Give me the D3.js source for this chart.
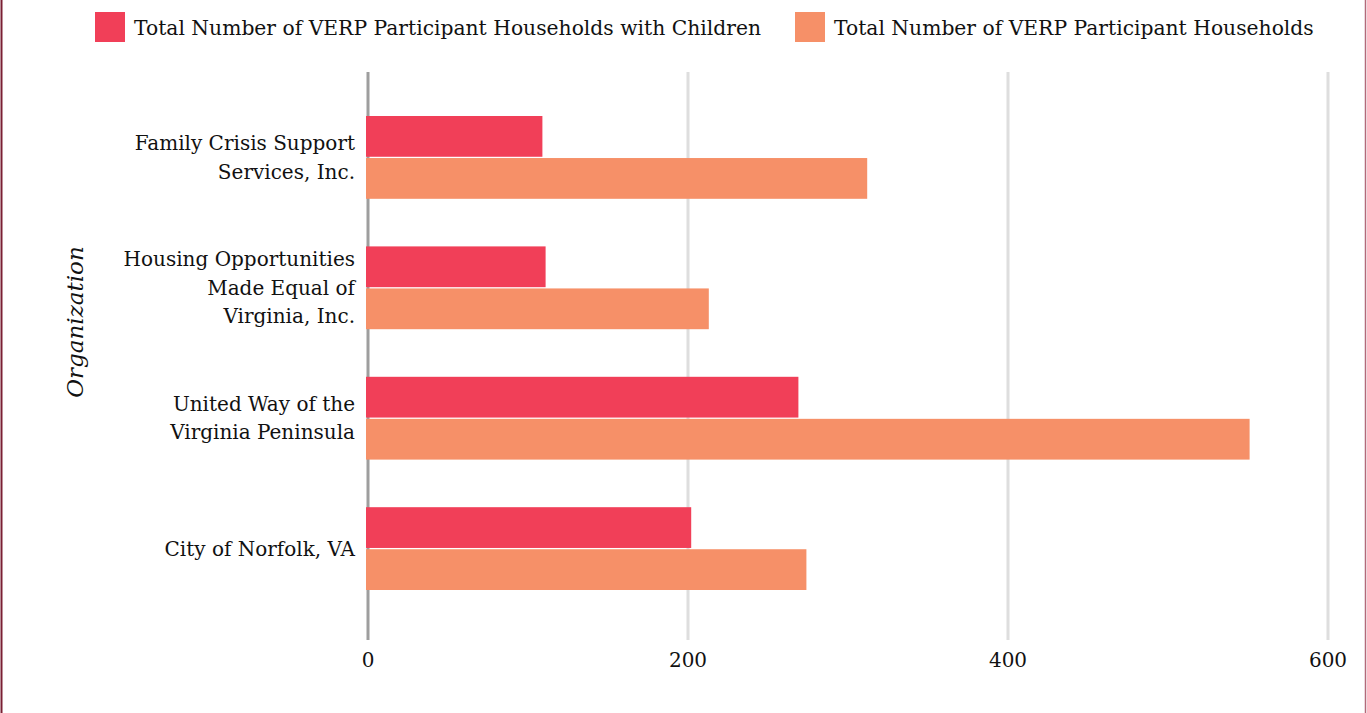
<!DOCTYPE html>
<html lang="en">
<head>
    <meta charset="UTF-8">
    <title>VERP Participant Households</title>
    <style>
        body{
            margin: 0;
            background: #fff;
        }
        svg text{
            font-family: "DejaVu Serif", Georgia, serif;
            fill: #111;
        }
        .grid line{
            stroke: #dedede;
            stroke-width: 3;
        }
    </style>
</head>
<body>
    <svg width="1367" height="713"></svg>
    <script src="https://d3js.org/d3.v7.min.js"></script>
    <script>
        var organizations = ["Family Crisis Support Services, Inc.",
                             "Housing Opportunities Made Equal of Virginia, Inc.",
                             "United Way of the Virginia Peninsula",
                             "City of Norfolk, VA"];
        // label lines as wrapped in the chart
        var labelLines = [["Family Crisis Support", "Services, Inc."],
                          ["Housing Opportunities", "Made Equal of", "Virginia, Inc."],
                          ["United Way of the", "Virginia Peninsula"],
                          ["City of Norfolk, VA"]];
        var withChildren = [109, 111, 269, 202];
        var totalHouseholds = [312, 213, 551, 274];
        var seriesNames = ["Total Number of VERP Participant Households with Children",
                           "Total Number of VERP Participant Households"];
        var seriesColors = ["#f13f58", "#f69068"];
        var xTicks = [0, 200, 400, 600];

        var svg = d3.select("svg");

        // frame lines left and right
        svg.append("line").attr("x1", 1.5).attr("x2", 1.5).attr("y1", 0).attr("y2", 713)
            .attr("stroke", "#7a1f33").attr("stroke-width", 2);
        svg.append("line").attr("x1", 1365.5).attr("x2", 1365.5).attr("y1", 0).attr("y2", 713)
            .attr("stroke", "#b36a7a").attr("stroke-width", 1.5);

        var x = d3.scaleLinear().domain([0, 600]).range([368, 1328]);
        var y = d3.scaleBand().domain(organizations).range([116, 590]).paddingInner(0.365).paddingOuter(0);
        var y1 = d3.scaleBand().domain([0, 1]).range([0, y.bandwidth()]).paddingInner(0.03);

        var data = organizations.map(function(d, i){
            return {org: d, values: [withChildren[i], totalHouseholds[i]]};
        });

        // gridlines
        var grid = svg.append("g").attr("class", "grid");
        grid.selectAll("line")
            .data(xTicks)
            .enter().append("line")
            .attr("x1", function(d){ return x(d); })
            .attr("x2", function(d){ return x(d); })
            .attr("y1", 72)
            .attr("y2", 640)
            .style("stroke", function(d){ return d === 0 ? "#9e9e9e" : null; });

        // bars
        var groups = svg.selectAll(".group")
            .data(data)
            .enter().append("g")
            .attr("class", "group")
            .attr("transform", function(d){ return "translate(0," + y(d.org) + ")"; });

        groups.selectAll("rect")
            .data(function(d){ return d.values; })
            .enter().append("rect")
            .attr("x", x(0) - 2)
            .attr("y", function(d, i){ return y1(i); })
            .attr("width", function(d){ return x(d) - x(0) + 2; })
            .attr("height", y1.bandwidth())
            .attr("fill", function(d, i){ return seriesColors[i]; });

        // x tick labels
        svg.append("g").selectAll("text")
            .data(xTicks)
            .enter().append("text")
            .attr("x", function(d){ return x(d); })
            .attr("y", 667)
            .attr("text-anchor", "middle")
            .style("font-size", "20px")
            .text(function(d){ return d; });

        // category labels
        var lineH = 28.5;
        svg.append("g").selectAll("text")
            .data(data)
            .enter().append("text")
            .attr("text-anchor", "end")
            .style("font-size", "20px")
            .each(function(d, i){
                var lines = labelLines[i];
                var cy = y(d.org) + y.bandwidth() / 2;
                var t = d3.select(this);
                lines.forEach(function(l, j){
                    t.append("tspan")
                        .attr("x", 355)
                        .attr("y", cy + (j - (lines.length - 1) / 2) * lineH + 7)
                        .text(l);
                });
            });

        // axis title
        svg.append("text")
            .attr("transform", "translate(83,322) rotate(-90)")
            .attr("text-anchor", "middle")
            .style("font-size", "23px")
            .style("font-style", "italic")
            .text("Organization");

        // legend
        var legendX = [95, 795];
        var legend = svg.selectAll(".legend")
            .data(seriesNames)
            .enter().append("g")
            .attr("class", "legend")
            .attr("transform", function(d, i){ return "translate(" + legendX[i] + ",12)"; });

        legend.append("rect")
            .attr("width", 30)
            .attr("height", 30)
            .attr("fill", function(d, i){ return seriesColors[i]; });

        legend.append("text")
            .attr("x", 39)
            .attr("y", 23)
            .style("font-size", "20.3px")
            .text(function(d){ return d; });
    </script>
</body>
</html>
